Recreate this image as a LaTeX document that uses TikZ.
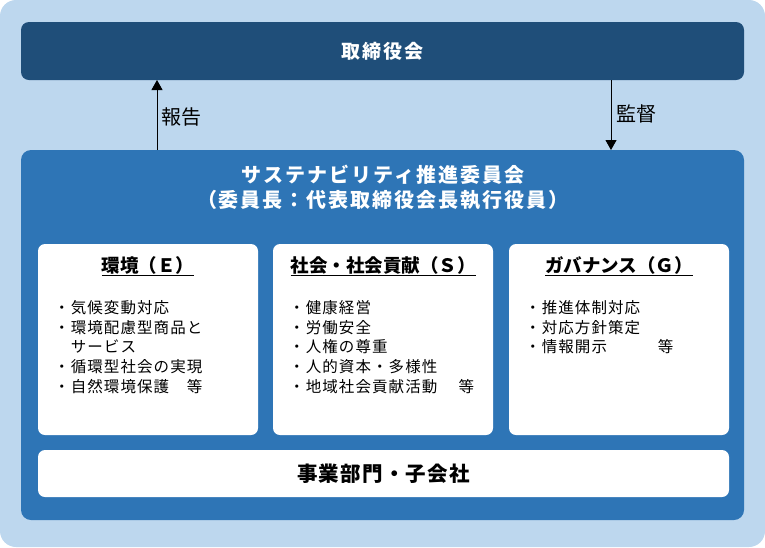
\documentclass[tikz,border=0pt]{standalone}
\usepackage{fontspec}
\setmainfont{Noto Sans CJK JP}
\usepackage{xcolor}
\usepackage{tikz}
\usetikzlibrary{arrows.meta}
\definecolor{bgBlue}{HTML}{BDD7EE}
\definecolor{boardBlue}{HTML}{1F4E79}
\definecolor{comBlue}{HTML}{2E75B6}
\tikzset{
box/.style = {rectangle, rounded corners=#1, inner sep=0pt, outer sep=0pt},
box/.default = 8pt, % corner radius
panel/.style = {box=7pt, fill=white, minimum width=220pt, minimum height=191pt},
head/.style = {font=\fontsize{18.5}{22}\selectfont\bfseries, inner sep=0pt},
items/.style = {font=\fontsize{15.5}{19.8}\selectfont\addfontfeature{LetterSpace=7},
                align=left, anchor=north west, inner sep=0pt},
lbl/.style = {font=\fontsize{20}{23}\selectfont, anchor=west, inner sep=0pt},
arr/.style = {line width=1pt, -{Triangle[length=10pt, width=11pt]}}
}

\begin{document}
\begin{tikzpicture}[x=1pt, y=-1pt]
  % Background
    \node[box=16pt, fill=bgBlue, minimum width=765pt, minimum height=547pt] (bgBox) at (382.5,273.5) {};

  % Boxes
    \node[box, fill=boardBlue, minimum width=723pt, minimum height=58pt, text=white,
          font=\fontsize{19}{22}\selectfont\bfseries\addfontfeature{LetterSpace=11}] (boardBox) at (382.5,51) {取締役会};
    \node[box=10pt, fill=comBlue, minimum width=723pt, minimum height=370pt] (comBox) at (382.5,335) {};
    \node[text=white, align=center, inner sep=0pt,
          font=\fontsize{20}{25}\selectfont\bfseries\addfontfeature{LetterSpace=10}] (comTitle) at (383,187)
          {サステナビリティ推進委員会\\（委員長：代表取締役会長執行役員）};

    \node[panel] (envBox) at (148,339.5) {};
    \node[panel] (socBox) at (383,339.5) {};
    \node[panel] (govBox) at (619,339.5) {};
    \node[box=7pt, fill=white, minimum width=691pt, minimum height=47pt,
          font=\fontsize{20.5}{24}\selectfont\bfseries\addfontfeature{LetterSpace=6}] (bizBox) at (383.5,473.5) {事業部門・子会社};

  % Headers
    \node[head] (envHead) at (148,266) {\underline{環境（Ｅ）}};
    \node[head] (socHead) at (383,266) {\underline{社会・社会貢献（Ｓ）}};
    \node[head] (govHead) at (619,266) {\underline{ガバナンス（Ｇ）}};

  % Items
    \node[items] (envList) at (54,300) {・気候変動対応\\・環境配慮型商品と\\　サービス\\・循環型社会の実現\\・自然環境保護　等};
    \node[items] (socList) at (289,300) {・健康経営\\・労働安全\\・人権の尊重\\・人的資本・多様性\\・地域社会貢献活動　 等};
    \node[items] (govList) at (525,300) {・推進体制対応\\・対応方針策定\\・情報開示　　　等};

  % Lines
    \draw[arr] ([xshift=136pt]comBox.north west) -- ([xshift=136pt]boardBox.south west);
    \draw[arr] ([xshift=590pt]boardBox.south west) -- ([xshift=590pt]comBox.north west);
    \node[lbl] (reportLbl) at (161,117) {報告};
    \node[lbl] (superLbl) at (616,114) {監督};
  \end{tikzpicture}
\end{document}
